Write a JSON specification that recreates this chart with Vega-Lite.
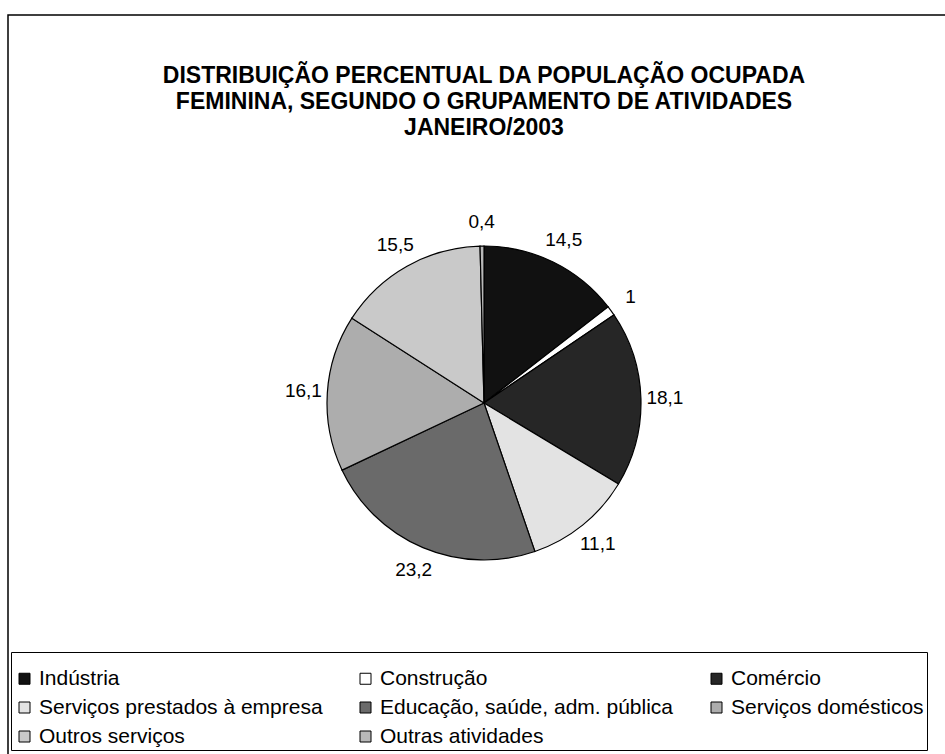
{
  "$schema": "https://vega.github.io/schema/vega-lite/v6.json",
  "width": 952,
  "height": 776,
  "autosize": {"type": "none"},
  "padding": {"left": 8, "top": 15, "right": 0, "bottom": 0},
  "background": "white",
  "view": {"stroke": "black", "strokeWidth": 1.5, "fill": "white"},
  "title": {
    "text": ["DISTRIBUIÇÃO PERCENTUAL DA POPULAÇÃO OCUPADA", "FEMININA, SEGUNDO O GRUPAMENTO DE ATIVIDADES", "JANEIRO/2003"],
    "font": "Liberation Sans",
    "fontSize": 23,
    "fontWeight": "bold",
    "color": "black",
    "lineHeight": 26,
    "anchor": "middle",
    "orient": "top",
    "offset": -125
  },
  "data": {
    "values": [
      {"atividade": "Indústria", "valor": 14.5, "rotulo": "14,5", "ordem": 1},
      {"atividade": "Construção", "valor": 1.0, "rotulo": "1", "ordem": 2},
      {"atividade": "Comércio", "valor": 18.1, "rotulo": "18,1", "ordem": 3},
      {"atividade": "Serviços prestados à empresa", "valor": 11.1, "rotulo": "11,1", "ordem": 4},
      {"atividade": "Educação, saúde, adm. pública", "valor": 23.2, "rotulo": "23,2", "ordem": 5},
      {"atividade": "Serviços domésticos", "valor": 16.1, "rotulo": "16,1", "ordem": 6},
      {"atividade": "Outros serviços", "valor": 15.5, "rotulo": "15,5", "ordem": 7},
      {"atividade": "Outras atividades", "valor": 0.4, "rotulo": "0,4", "ordem": 8}
    ]
  },
  "encoding": {
    "theta": {"field": "valor", "type": "quantitative", "stack": true},
    "order": {"field": "ordem", "type": "quantitative"}
  },
  "layer": [
    {
      "mark": {"type": "arc", "outerRadius": 157, "stroke": "black", "strokeWidth": 1.2},
      "encoding": {
        "color": {
          "field": "atividade",
          "type": "nominal",
          "scale": {
            "domain": ["Indústria", "Construção", "Comércio", "Serviços prestados à empresa", "Educação, saúde, adm. pública", "Serviços domésticos", "Outros serviços", "Outras atividades"],
            "range": ["#111111", "#ffffff", "#262626", "#e3e3e3", "#6a6a6a", "#adadad", "#c9c9c9", "#b8b8b8"]
          },
          "legend": {
            "orient": "none",
            "legendX": 3,
            "legendY": 637,
            "direction": "horizontal",
            "columns": 3,
            "gridAlign": "each",
            "columnPadding": 32,
            "rowPadding": 7,
            "padding": 3,
            "strokeColor": "black",
            "title": " ",
            "titleFontSize": 1,
            "titlePadding": 12,
            "symbolType": "square",
            "symbolSize": 121,
            "symbolStrokeColor": "black",
            "symbolStrokeWidth": 1,
            "symbolOpacity": 1,
            "labelFont": "Liberation Sans",
            "labelFontSize": 21,
            "labelColor": "black",
            "labelLimit": 500,
            "labelOffset": 4
          }
        }
      }
    },
    {
      "mark": {"type": "text", "radius": 181, "font": "Liberation Sans", "fontSize": 19, "color": "black"},
      "encoding": {"text": {"field": "rotulo", "type": "nominal"}}
    }
  ]
}
